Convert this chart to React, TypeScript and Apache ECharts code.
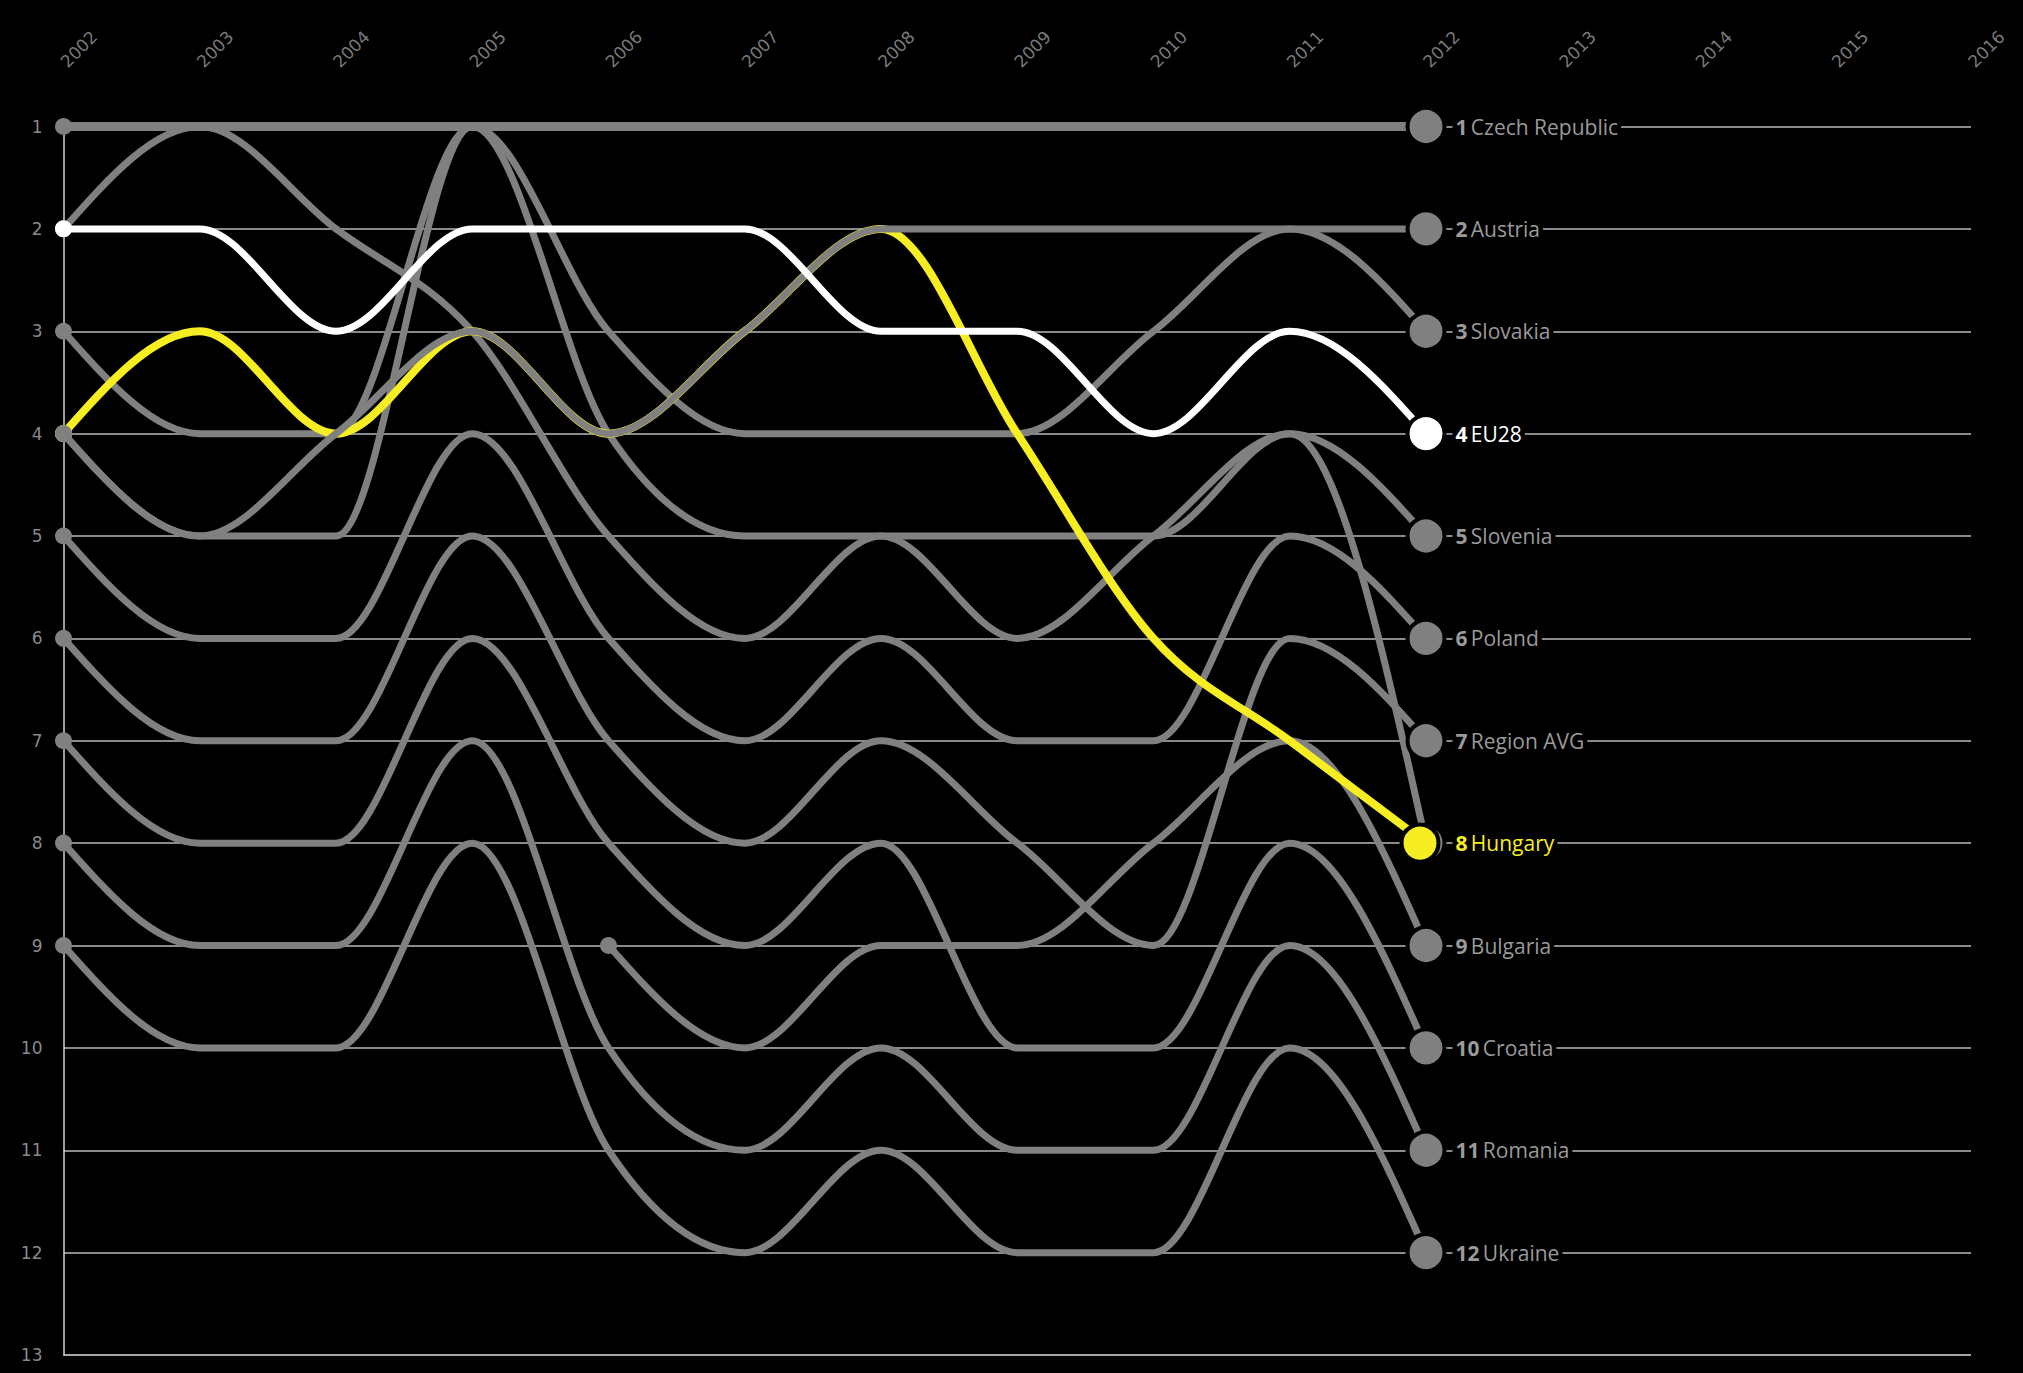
import React, { useEffect, useRef } from 'react';
import * as echarts from 'echarts';

// ---------- data ----------
const years = ['2002', '2003', '2004', '2005', '2006', '2007', '2008', '2009', '2010', '2011', '2012', '2013', '2014', '2015', '2016'];
const rankTicks = [1, 2, 3, 4, 5, 6, 7, 8, 9, 10, 11, 12, 13];

// ranks 2002..2012 (null = no data)
const czechRepublic = [1, 1, 1, 1, 1, 1, 1, 1, 1, 1, 1];
const austria = [4, 5, 4, 3, 4, 3, 2, 2, 2, 2, 2];
const slovakia = [3, 4, 4, 1, 3, 4, 4, 4, 3, 2, 3];
const eu28 = [2, 2, 3, 2, 2, 2, 3, 3, 4, 3, 4];
const slovenia = [4, 5, 5, 1, 4, 5, 5, 5, 5, 4, 5];
const poland = [5, 6, 6, 4, 6, 7, 6, 7, 7, 5, 6];
const regionAvg = [6, 7, 7, 5, 7, 8, 7, 8, 9, 6, 7];
const hungary = [4, 3, 4, 3, 4, 3, 2, 4, 6, 7, 8];
const bulgaria = [null, null, null, null, 9, 10, 9, 9, 8, 7, 9];
const croatia = [7, 8, 8, 6, 8, 9, 8, 10, 10, 8, 10];
const romania = [8, 9, 9, 7, 10, 11, 10, 11, 11, 9, 11];
const ukraine = [9, 10, 10, 8, 11, 12, 11, 12, 12, 10, 12];
const hiddenGray = [2, 1, 2, 3, 5, 6, 5, 6, 5, 4, 8];

const GRAY = '#808080';
const WHITE = '#ffffff';
const YELLOW = '#f6ee22';
const LABEL_GRAY = '#9a9a9a';

type S = { name: string; values: (number | null)[]; color: string; labelColor: string; width: number; label: boolean; offset?: number };

// drawing order: bottom -> top
const seriesDefs: S[] = [
  { name: '', values: hiddenGray, color: GRAY, labelColor: LABEL_GRAY, width: 7, label: false },
  { name: 'Slovakia', values: slovakia, color: GRAY, labelColor: LABEL_GRAY, width: 7, label: true },
  { name: 'Slovenia', values: slovenia, color: GRAY, labelColor: LABEL_GRAY, width: 7, label: true },
  { name: 'Poland', values: poland, color: GRAY, labelColor: LABEL_GRAY, width: 7, label: true },
  { name: 'Region AVG', values: regionAvg, color: GRAY, labelColor: LABEL_GRAY, width: 7, label: true },
  { name: 'Croatia', values: croatia, color: GRAY, labelColor: LABEL_GRAY, width: 7, label: true },
  { name: 'Romania', values: romania, color: GRAY, labelColor: LABEL_GRAY, width: 7, label: true },
  { name: 'Ukraine', values: ukraine, color: GRAY, labelColor: LABEL_GRAY, width: 7, label: true },
  { name: 'Bulgaria', values: bulgaria, color: GRAY, labelColor: LABEL_GRAY, width: 7, label: true },
  { name: 'Czech Republic', values: czechRepublic, color: GRAY, labelColor: LABEL_GRAY, width: 9, label: true },
  { name: 'Hungary', values: hungary, color: YELLOW, labelColor: YELLOW, width: 8, label: true, offset: -6 },
  { name: 'Austria', values: austria, color: GRAY, labelColor: LABEL_GRAY, width: 7, label: true },
  { name: 'EU28', values: eu28, color: WHITE, labelColor: WHITE, width: 7, label: true },
];

// ---------- monotone-x curve (pixel space) ----------
function slope3(p0: number[], p1: number[], p2: number[]) {
  const h0 = p1[0] - p0[0];
  const h1 = p2[0] - p1[0];
  const s0 = (p1[1] - p0[1]) / h0;
  const s1 = (p2[1] - p1[1]) / h1;
  const p = (s0 * h1 + s1 * h0) / (h0 + h1);
  return (Math.sign(s0) + Math.sign(s1)) * Math.min(Math.abs(s0), Math.abs(s1), 0.5 * Math.abs(p)) || 0;
}
function slope2(p0: number[], p1: number[], t: number) {
  const h = p1[0] - p0[0];
  return h ? (3 * (p1[1] - p0[1]) / h - t) / 2 : t;
}
function monotonePath(pts: number[][]): string {
  const n = pts.length;
  if (n === 0) return '';
  let d = `M${pts[0][0]},${pts[0][1]}`;
  if (n === 1) return d;
  if (n === 2) return d + ` L${pts[1][0]},${pts[1][1]}`;
  const t: number[] = new Array(n).fill(0);
  for (let i = 1; i < n - 1; i++) t[i] = slope3(pts[i - 1], pts[i], pts[i + 1]);
  t[0] = slope2(pts[0], pts[1], t[1]);
  t[n - 1] = slope2(pts[n - 2], pts[n - 1], t[n - 2]);
  for (let i = 0; i < n - 1; i++) {
    const [x0, y0] = pts[i];
    const [x1, y1] = pts[i + 1];
    const dx = (x1 - x0) / 3;
    d += ` C${x0 + dx},${y0 + dx * t[i]} ${x1 - dx},${y1 - dx * t[i + 1]} ${x1},${y1}`;
  }
  return d;
}

const FONT = "'Open Sans', 'Noto Sans', sans-serif";

export default function App() {
  const ref = useRef<HTMLDivElement>(null);
  useEffect(() => {
    if (!ref.current) return;
    const chart = echarts.init(ref.current, null, { renderer: 'svg' });

    const lineSeries = seriesDefs.map((s) => {
      const points = s.values
        .map((v, i) => (v == null ? null : [i, v]))
        .filter((p) => p !== null) as number[][];
      return {
        type: 'custom',
        name: s.name || 'hidden',
        coordinateSystem: 'cartesian2d',
        silent: true,
        encode: { x: 0, y: 1 },
        data: points,
        renderItem: (params: any, api: any) => {
          if (params.dataIndex !== 0) return null;
          const px = points.map((p) => api.coord(p));
          return {
            type: 'group',
            children: [
              {
                type: 'path',
                shape: { pathData: monotonePath(px) },
                style: { fill: 'none', stroke: s.color, lineWidth: s.width, lineCap: 'butt', lineJoin: 'round' },
              },
              {
                type: 'circle',
                shape: { cx: px[0][0], cy: px[0][1], r: 8.5 },
                style: { fill: s.color },
              },
            ],
          };
        },
      };
    });

    const endData = seriesDefs.map((s) => {
      const last = s.values[s.values.length - 1] as number;
      return {
        name: s.name,
        value: [s.values.length - 1, last],
        symbolOffset: [s.offset || 0, 0],
        itemStyle: { color: s.color, borderColor: '#000', borderWidth: 4, opacity: 1 },
        label: {
          show: s.label,
          position: 'right',
          distance: 6,
          offset: [s.offset ? -s.offset : 0, 0],
          backgroundColor: '#000',
          padding: [2, 3, 2, 3],
          formatter: `{n|${last}} {t|${s.name}}`,
          rich: {
            n: { color: s.labelColor, fontSize: 21, fontWeight: 'bold', fontFamily: FONT },
            t: { color: s.labelColor, fontSize: 21, fontFamily: FONT },
          },
        },
      };
    });

    const splitColors = rankTicks.map((r) => (r === 13 ? '#dcdcdc' : '#b8b8b8'));

    chart.setOption({
      backgroundColor: '#000',
      animation: false,
      grid: { left: 63.5, right: 52, top: 126.5, bottom: 18, containLabel: false },
      xAxis: {
        type: 'category',
        data: years,
        boundaryGap: false,
        position: 'top',
        axisLine: { show: false },
        axisTick: { show: false },
        splitLine: { show: false },
        axisLabel: {
          interval: 0,
          rotate: -45,
          margin: 62,
          color: '#7a7a7a',
          fontSize: 17,
          fontFamily: "'DejaVu Sans', sans-serif",
        },
      },
      yAxis: {
        type: 'value',
        inverse: true,
        min: 1,
        max: 13,
        interval: 1,
        axisLine: { show: true, lineStyle: { color: '#d0d0d0', width: 1.5 } },
        axisTick: { show: false },
        axisLabel: {
          color: '#8a8a8a',
          fontSize: 17,
          margin: 21,
          fontFamily: "'DejaVu Sans', sans-serif",
        },
        splitLine: { show: true, lineStyle: { color: splitColors, width: 1.5 } },
      },
      series: [
        ...lineSeries,
        {
          type: 'scatter',
          name: 'end',
          silent: true,
          symbol: 'circle',
          symbolSize: 37,
          itemStyle: { opacity: 1 },
          data: endData,
          z: 5,
        },
      ],
    } as any);

    return () => chart.dispose();
  }, []);

  return (
    <div
      ref={ref}
      style={{ position: 'fixed', left: 0, top: 0, width: '2023px', height: '1373px', background: '#000' }}
    />
  );
}
